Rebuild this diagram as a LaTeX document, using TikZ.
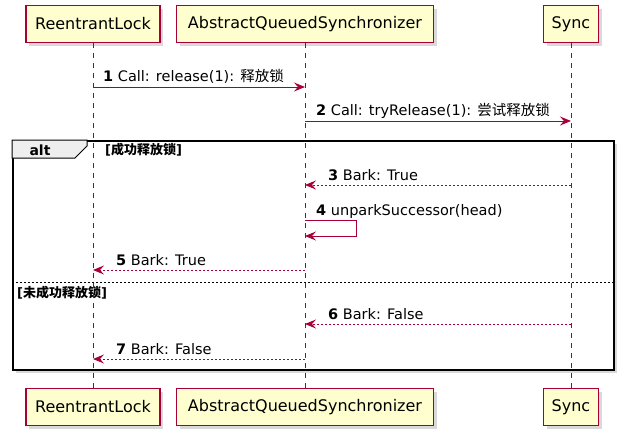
\documentclass[tikz,border=0pt]{standalone}
\usepackage{fontspec}
\setmainfont{DejaVu Sans}
\newfontfamily\cjk{Noto Sans CJK SC}
\usetikzlibrary{positioning, arrows.meta, shadows}
\definecolor{umlred}{HTML}{A80036}
\definecolor{umlfill}{HTML}{FEFECE}
\definecolor{tabgray}{HTML}{EEEEEE}

\begin{document}
\begin{tikzpicture}[x=1pt, y=-1pt,
    actor/.style={rectangle, draw=umlred, fill=umlfill, line width=1.2pt, minimum height=37pt, inner sep=0pt, font=\fontsize{16}{18}\selectfont, drop shadow={shadow xshift=3pt, shadow yshift=-3pt, opacity=0.3}},
    lifeline/.style={draw=umlred, dash pattern=on 5pt off 5pt, line width=0.9pt},
    call_style/.style={draw=umlred, line width=1pt, -{Stealth[length=11pt, width=9pt, inset=4pt]}},
    return_style/.style={call_style, dash pattern=on 2pt off 2pt},
    msg/.style={anchor=base west, inner sep=0pt, font=\fontsize{14.5}{16}\selectfont},
    guard/.style={anchor=base west, inner sep=0pt, font=\bfseries\fontsize{13}{15}\selectfont},
    frame_style/.style={rectangle, draw=black, line width=1.6pt, fill=white, inner sep=0pt, drop shadow={shadow xshift=3pt, shadow yshift=-3pt, opacity=0.3}}
]
\useasboundingbox (0,0) rectangle (630,440);

% Participants on top
\node[actor, minimum width=134pt] (rl_top) at (93,24) {ReentrantLock};
\node[actor, minimum width=257pt] (aqs_top) at (305,24) {AbstractQueuedSynchronizer};
\node[actor, minimum width=55pt] (sync_top) at (571,24) {Sync};

% Participants at the bottom
\node[actor, minimum width=134pt] (rl_bot) at (93,407) {ReentrantLock};
\node[actor, minimum width=257pt] (aqs_bot) at (305,407) {AbstractQueuedSynchronizer};
\node[actor, minimum width=55pt] (sync_bot) at (571,407) {Sync};

% alt frame
\node[frame_style, anchor=north west, minimum width=601pt, minimum height=229pt] (alt_frame) at (12,140) {};
\draw[fill=tabgray, line width=1pt] (alt_frame.north west) -- ++(75,0) -- ++(0,6) -- ++(-12,12) -- ++(-63,0) -- cycle;
\node[anchor=base, inner sep=0pt, font=\bfseries\fontsize{14}{16}\selectfont] (alt_label) at (40,155) {alt};
\node[guard] (guard_ok) at (105,154) {[{\cjk 成功释放锁}]};
\coordinate (sep_l) at (alt_frame.west |- 0,282);
\coordinate (sep_r) at (alt_frame.east |- 0,282);
\draw[black, line width=0.8pt, dash pattern=on 2pt off 2pt] (sep_l) -- (sep_r);
\node[guard] (guard_fail) at (17,297) {[{\cjk 未成功释放锁}]};

% Lifelines
\draw[lifeline] (rl_top) -- (rl_bot);
\draw[lifeline] (aqs_top) -- (aqs_bot);
\draw[lifeline] (sync_top) -- (sync_bot);

% Message ends on the lifelines
\coordinate (rl1) at (rl_top.south |- 0,87);
\coordinate (aqs1) at (aqs_top.south |- 0,87);
\coordinate (aqs2) at (aqs_top.south |- 0,121);
\coordinate (sync2) at (sync_top.south |- 0,121);
\coordinate (sync3) at (sync_top.south |- 0,185);
\coordinate (aqs3) at (aqs_top.south |- 0,185);
\coordinate (aqs4a) at (aqs_top.south |- 0,220);
\coordinate (aqs4b) at (aqs_top.south |- 0,236);
\coordinate (aqs5) at (aqs_top.south |- 0,270);
\coordinate (rl5) at (rl_top.south |- 0,270);
\coordinate (sync6) at (sync_top.south |- 0,324);
\coordinate (aqs6) at (aqs_top.south |- 0,324);
\coordinate (aqs7) at (aqs_top.south |- 0,359);
\coordinate (rl7) at (rl_top.south |- 0,359);

% Messages
\draw[call_style] (rl1) -- (aqs1);
\node[msg] (m1) at (103,81) {\textbf{1} Call: release(1): {\cjk 释放锁}};
\draw[call_style] (aqs2) -- (sync2);
\node[msg] (m2) at (316,115) {\textbf{2} Call: tryRelease(1): {\cjk 尝试释放锁}};
\draw[return_style] (sync3) -- (aqs3);
\node[msg] (m3) at (328,180) {\textbf{3} Bark: True};
\draw[call_style] (aqs4a) -- ++(51,0) |- (aqs4b);
\node[msg] (m4) at (316,215) {\textbf{4} unparkSuccessor(head)};
\draw[return_style] (aqs5) -- (rl5);
\node[msg] (m5) at (116,265) {\textbf{5} Bark: True};
\draw[return_style] (sync6) -- (aqs6);
\node[msg] (m6) at (328,319) {\textbf{6} Bark: False};
\draw[return_style] (aqs7) -- (rl7);
\node[msg] (m7) at (116,354) {\textbf{7} Bark: False};

\end{tikzpicture}
\end{document}
